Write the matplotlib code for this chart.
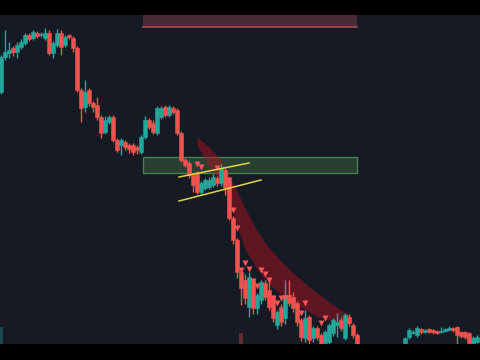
import numpy as np
import matplotlib
matplotlib.use("Agg")
import matplotlib.pyplot as plt
from matplotlib.patches import Rectangle

# OHLC (arbitrary price units, one candle per bar)
opens = [252, 287, 291, 296, 292, 297, 301, 309, 306, 311, 309, 306, 311, 291, 299, 311, 299, 309, 306, 296,
         254, 237, 254, 241, 239, 227, 212, 222, 227, 204, 199, 202, 199, 199, 197, 192, 207, 224, 221, 211,
         227, 237, 229, 236, 234, 211, 184, 181, 169, 171, 152, 156, 157, 159, 166, 161, 174, 164, 126, 104,
         72, 64, 37, 64, 36, 44, 61, 54, 47, 19, 37, 26, 49, 47, 41, 24, 6, 27, 6, 16,
         9, 1, 2, 11, 19, 24, 6, 27, 19, 9, -3, -14, -24, -18, -28, -20, -12, -16, -8, -4,
         -7, 1, 7, 11, 9, 15, 12, 15, 14, 13, 12, 13, 14, 16, 17, 12, 12, 11, 1, 2]
highs = [289, 314, 302, 298, 302, 305, 311, 311, 314, 313, 312, 316, 314, 303, 315, 314, 309, 310, 308, 298,
         256, 264, 256, 243, 247, 229, 228, 229, 229, 206, 206, 204, 201, 201, 199, 209, 228, 226, 224, 238,
         238, 239, 239, 238, 236, 213, 186, 183, 171, 173, 163, 166, 167, 170, 168, 180, 176, 166, 128, 106,
         76, 70, 72, 66, 51, 64, 64, 64, 49, 34, 40, 64, 64, 52, 43, 26, 34, 29, 18, 18,
         11, 14, 21, 26, 31, 27, 31, 30, 21, 11, -2, -12, -15, -16, -18, -10, -9, -6, -2, -2,
         -1, 7, 16, 14, 18, 16, 15, 16, 15, 14, 17, 16, 18, 17, 18, 13, 13, 12, 8, 9]
lows = [250, 284, 286, 288, 286, 295, 299, 303, 304, 306, 307, 304, 289, 286, 297, 289, 297, 305, 292, 252,
        222, 232, 238, 232, 224, 206, 210, 220, 202, 192, 189, 194, 191, 189, 190, 190, 205, 215, 210, 209,
        225, 227, 227, 230, 209, 182, 177, 166, 152, 150, 149, 154, 155, 157, 158, 158, 149, 124, 100, 66,
        39, 40, 27, 30, 30, 40, 44, 34, 22, 15, 18, 20, 38, 32, 18, 3, 2, 0, 2, 4,
        -4, -2, -1, 8, 7, 13, 4, 18, 6, -4, -18, -28, -27, -32, -30, -22, -19, -18, -10, -10,
        -9, -3, 5, 10, 7, 10, 11, 11, 10, 10, 11, 12, 13, 12, 0, 6, 5, -2, -1, 1]
closes = [287, 292, 294, 292, 299, 302, 309, 305, 312, 308, 310, 311, 291, 301, 311, 297, 307, 307, 296, 254,
          236, 252, 241, 237, 227, 211, 224, 227, 204, 194, 204, 197, 195, 192, 194, 207, 224, 217, 212, 236,
          236, 229, 237, 232, 211, 184, 179, 169, 159, 152, 161, 164, 164, 167, 161, 176, 156, 126, 104, 72,
          56, 46, 67, 36, 49, 62, 47, 37, 26, 32, 22, 49, 41, 36, 22, 7, 26, 4, 16, 7,
          -1, 12, 19, 24, 22, 16, 29, 21, 9, -1, -14, -24, -18, -28, -20, -12, -16, -8, -4, -7,
          -3, 6, 14, 12, 16, 12, 14, 12, 12, 11, 13, 15, 16, 14, 9, 8, 7, 1, 6, 7]

# sell signals (triangles)
sig_idx = [49, 50, 54, 57, 58, 59, 60, 61, 62, 63, 64, 65, 66, 67, 68, 69, 70, 71, 75, 76, 80, 81]
sig_price = [180, 177, 176, 164, 134, 116, 74, 81, 75, 63, 58, 74, 70, 64, 46, 41, 46, 46, 31, 41, 21, 26]

# red cloud between two averages
cloud_idx = [49, 52, 55, 58, 61, 64, 67, 70, 73, 76, 79, 82, 85, 87]
cloud_upper = [207, 197, 184, 161, 136, 113, 96, 83, 71, 61, 51, 42, 34, 29]
cloud_lower = [199, 177, 162, 130, 95, 75, 60, 50, 42, 34, 28, 24, 22, 22]

# volume bars that peek out at the bottom
vol_idx = [0, 60]
vol_top = [17, 11]

# zones and channel
supply_zone = (35.5, 89, 316, 329)
demand_zone = (35.5, 89, 171, 187)
chan_upper = ([44.5, 62], [167, 181])
chan_lower = ([44.5, 65], [143, 164])

UP = "#26a69a"
DOWN = "#ef5350"

fig = plt.figure(figsize=(4.8, 3.6), dpi=100, facecolor="black")
ax = fig.add_axes([0, 16 / 360, 1, 329 / 360])
ax.set_facecolor("#161a25")

# zones
x0, x1, y0, y1 = supply_zone
ax.add_patch(Rectangle((x0, y0), x1 - x0, y1 - y0, facecolor="#4a2a34", edgecolor="none", zorder=1))
ax.plot([x0, x1], [y0 + 1, y0 + 1], color="#a8444e", lw=1.2, zorder=1.1)
x0, x1, y0, y1 = demand_zone
ax.add_patch(Rectangle((x0, y0), x1 - x0, y1 - y0, facecolor="#283f31",
                       edgecolor="#4a8054", lw=1.0, zorder=1))

# cloud
ax.fill_between(cloud_idx, cloud_lower, cloud_upper, color="#a8141f", alpha=0.5, lw=0, zorder=1.5)

# volume
ax.bar(vol_idx, np.array(vol_top) + 20, bottom=-20, width=0.8,
       color=[UP, DOWN], alpha=0.35, zorder=1.2)

# candles
o = np.array(opens)
c = np.array(closes)
idx = np.arange(len(o))
cols = np.where(c >= o, UP, DOWN)
ax.vlines(idx, lows, highs, colors=cols, lw=1.0, zorder=3)
body = np.maximum(np.abs(c - o), 1.5)
ax.bar(idx, body, bottom=np.minimum(o, c), width=0.78, color=cols,
       edgecolor=cols, lw=0.4, zorder=3.1)

# signals
ax.plot(sig_idx, sig_price, "v", color="#f2555a", ms=5, mec="none", zorder=3.5)

# channel lines
ax.plot(*chan_upper, color="#e3d540", lw=1.1, zorder=5)
ax.plot(*chan_lower, color="#e3d540", lw=1.1, zorder=5)

ax.set_xlim(-0.25, 119.75)
ax.set_ylim(0, 329)
ax.set_xticks([])
ax.set_yticks([])
for s in ax.spines.values():
    s.set_visible(False)

fig.savefig("out.png", dpi=100, facecolor="black")
